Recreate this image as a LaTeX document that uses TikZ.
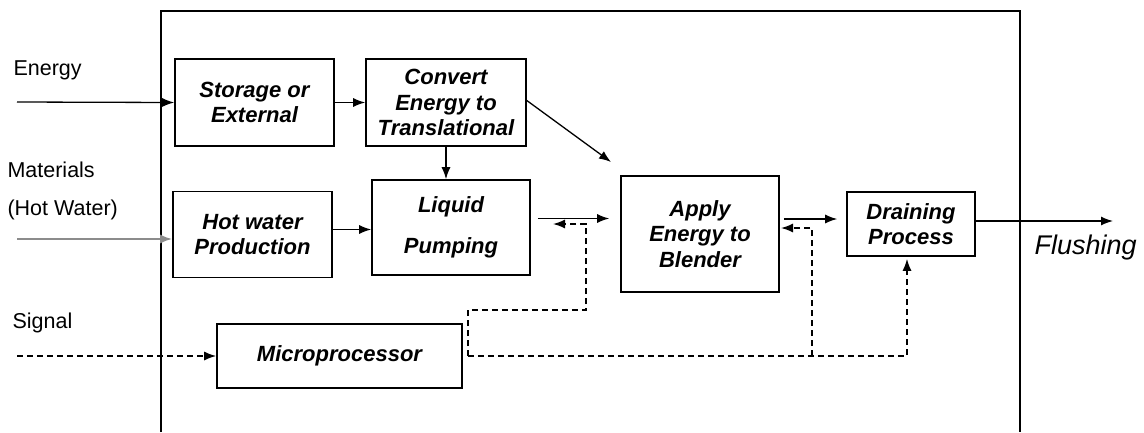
\documentclass[tikz,border=0pt]{standalone}
\usepackage{fontspec}
\setmainfont{Liberation Sans}
\usetikzlibrary{positioning,calc,arrows.meta}
\tikzset{
  blk/.style={draw, line width=1.6pt, align=center, inner sep=2pt,
    font=\fontsize{22}{25.5}\selectfont\bfseries\itshape},
  lbl/.style={anchor=west, font=\fontsize{21.5}{24}\selectfont},
  flow/.style={line width=1.3pt, -{Latex[length=12pt,width=9pt]}},
  matl/.style={flow, draw=black!45, line width=2pt},
  sig/.style={flow, dash pattern=on 6pt off 4pt, line width=1.5pt},
}

\begin{document}
\begin{tikzpicture}[x=1pt,y=-1pt]
\useasboundingbox (0,0) rectangle (1144,432);

% ---- system boundary (open at the bottom) ----
\draw[line width=1.6pt] (161,432) -- (161,11) -- (1020,11) -- (1020,432);

% ---- function blocks ----
\node[blk, minimum width=159pt, minimum height=87pt] (store) at (254.5,102.5) {Storage or\\External};
\node[blk, minimum width=160pt, minimum height=87pt] (conv)  at (446,102.5) {Convert\\Energy to\\Translational};
\node[blk, minimum width=159pt, minimum height=86pt] (hot)   at (252.5,234.5) {Hot water\\Production};
\node[blk, minimum width=158pt, minimum height=95pt] (liq)   at (451,227.5) {Liquid\\[15pt]Pumping};
\node[blk, minimum width=158pt, minimum height=116pt] (apply) at (700,234) {Apply\\Energy to\\Blender};
\node[blk, minimum width=128pt, minimum height=64pt] (drain) at (911,224) {Draining\\Process};
\node[blk, minimum width=245pt, minimum height=64pt] (micro) at (339.5,356) {Microprocessor};

% ---- inputs / output ----
\node[lbl] (energy) at (10,70) {Energy};
\node[lbl] (mat)    at (4,170) {Materials};
\node[lbl] (hw)     at (4,210) {(Hot Water)};
\node[lbl] (signal) at (9,323) {Signal};
\node[anchor=west, font=\fontsize{27}{30}\selectfont\itshape] (flush) at (1031,248) {Flushing};

\coordinate (eIn) at (17,102);
\coordinate (mIn) at (17,239);
\coordinate (sIn) at (17,356);
\coordinate (aIn) at (611,162);
\coordinate (out) at (1113,221);
\coordinate (fbL) at (553,224);
\coordinate (fbR) at (781,228);

% ---- energy / material flow ----
\draw[flow] (eIn) -- (store.west);
\draw[matl] (mIn) -- (mIn -| hot.west);
\draw[flow] (store.east) -- (conv.west);
\draw[flow] ([yshift=5pt]hot.east) -- ([yshift=5pt]hot.east -| liq.west);
\draw[flow] (conv.south) -- (conv.south |- liq.north);
\draw[flow] ([yshift=2pt]conv.east) -- (aIn);
\draw[flow] ([xshift=7pt,yshift=9pt]liq.east) -- ([xshift=-11pt,yshift=9pt]liq.east -| apply.west);
\draw[flow] ([xshift=4pt,yshift=5pt]drain.west -| apply.east) -- ([xshift=-9pt,yshift=5pt]drain.west);
\draw[flow] ([yshift=3pt]drain.east) -- (out);

% ---- control signals ----
\draw[sig] (sIn) -- (micro.west);
\draw[sig] ([xshift=5pt]micro.east) -- ++(0,-46) -| ([xshift=33pt]fbL) -- (fbL);
\draw[sig] ([xshift=5pt]micro.east) -| ([xshift=-4pt,yshift=-2pt]drain.south);
\draw[sig] ([xshift=31pt]fbR |- micro.east) |- (fbR);

\end{tikzpicture}
\end{document}
